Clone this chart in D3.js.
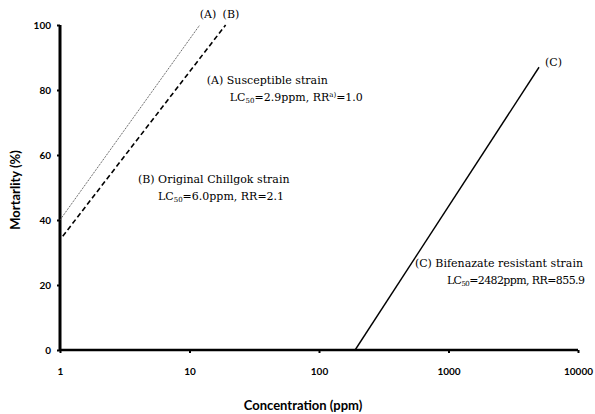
<!DOCTYPE html>
<html>
<head>
<meta charset="utf-8">
<script src="https://cdn.jsdelivr.net/npm/d3@7"></script>
<style>
  body { margin: 0; background: #fff; }
  .tick text { font-family: Lato, "Open Sans", sans-serif; font-weight: bold; font-size: 10px; }
  .note { font-family: "DejaVu Serif", "Liberation Serif", serif; font-size: 11px; }
</style>
</head>
<body>
<script>
// dose-response lines: [ppm, mortality %]
var lineA = [[1, 40], [12, 100]];
var lineB = [[1.05, 35], [19, 100]];
var lineC = [[190, 0], [5000, 87]];

var xTicks = [1, 10, 100, 1000, 10000];
var yTicks = [0, 20, 40, 60, 80, 100];

var endLabels = [
    {text: "(A)", x: 12, y: 100},
    {text: "(B)", x: 19, y: 100},
    {text: "(C)", x: 5000, y: 87}
];

// annotation anchors (ppm, %)
var notes = [
    {x: 13.6, y: 82, lines: ["(A) Susceptible strain", "LC50=2.9ppm, RRa)=1.0"]},
    {x: 4.0, y: 51.5, lines: ["(B) Original Chillgok strain", "LC50=6.0ppm, RR=2.1"]},
    {x: 550, y: 25.5, lines: ["(C) Bifenazate resistant strain", "LC50=2482ppm, RR=855.9"]}
];

// label nudges in px
var endOffsets = [[0, -7], [-3, -7], [6, -1]];
var noteIndent = [23, 20, 32];
var noteSpacing = [0, 0, -0.6];

var margin = {top: 25, right: 17, bottom: 64, left: 60},
    width = 595 - margin.left - margin.right,
    height = 414 - margin.top - margin.bottom;

var x = d3.scaleLog().domain([1, 10000]).range([0, width]);
var y = d3.scaleLinear().domain([0, 100]).range([height, 0]);

var svg = d3.select("body").append("svg")
    .attr("width", 595)
    .attr("height", 414);

var group = svg.append("g")
    .attr("transform", "translate(" + margin.left + "," + margin.top + ")");

// axes
var xAxis = group.append("g")
    .attr("transform", "translate(0," + height + ")")
    .call(d3.axisBottom(x).tickValues(xTicks).tickFormat(d3.format("d")).tickSize(3).tickPadding(15));
var yAxis = group.append("g")
    .call(d3.axisLeft(y).tickValues(yTicks).tickSize(3).tickPadding(6));

xAxis.select(".domain").attr("stroke-width", 2.5).attr("d", "M0,0H" + width);
yAxis.select(".domain").attr("stroke-width", 3).attr("d", "M0," + height + "V0");
group.selectAll(".tick line").attr("stroke-width", 2);

var line = d3.line()
    .x(d => x(d[0]))
    .y(d => y(d[1]));

group.append("path").datum(lineA)
    .attr("d", line).attr("fill", "none").attr("stroke", "#444")
    .attr("stroke-width", 1).attr("stroke-dasharray", "1,1");
group.append("path").datum(lineB)
    .attr("d", line).attr("fill", "none").attr("stroke", "#000")
    .attr("stroke-width", 1.6).attr("stroke-dasharray", "5,3");
group.append("path").datum(lineC)
    .attr("d", line).attr("fill", "none").attr("stroke", "#000")
    .attr("stroke-width", 1.4);

group.selectAll(".endlab").data(endLabels).enter().append("text")
    .attr("class", "note")
    .attr("x", (d, i) => x(d.x) + endOffsets[i][0])
    .attr("y", (d, i) => y(d.y) + endOffsets[i][1])
    .text(d => d.text);

// annotations with subscript 50 and superscript a)
function writeLine(t, s) {
    var m = s.match(/^(LC)(50)(.*?)(RR)(a\))?(.*)$/);
    if (!m) { t.text(s); return; }
    t.append("tspan").text("LC");
    t.append("tspan").attr("font-size", 7).attr("dy", 2).text("50");
    t.append("tspan").attr("dy", -2).text(m[3] + "RR");
    if (m[5]) {
        t.append("tspan").attr("font-size", 7).attr("dy", -4).text("a)");
        t.append("tspan").attr("dy", 4).text(m[6]);
    } else {
        t.append("tspan").text(m[6]);
    }
}

notes.forEach((n, k) => {
    n.lines.forEach((s, i) => {
        var t = group.append("text")
            .attr("class", "note")
            .attr("x", x(n.x) + (i ? noteIndent[k] : 0))
            .attr("y", y(n.y) + i * 17)
            .style("letter-spacing", i ? noteSpacing[k] + "px" : null);
        writeLine(t, s);
    });
});

svg.append("text")
    .attr("x", margin.left + 243)
    .attr("y", 410)
    .attr("text-anchor", "middle")
    .style("font-family", "Lato, 'Open Sans', sans-serif")
    .style("font-weight", "bold")
    .style("font-size", "13px")
    .text("Concentration (ppm)");

svg.append("text")
    .attr("transform", "translate(20,190) rotate(-90)")
    .attr("text-anchor", "middle")
    .style("font-family", "Lato, 'Open Sans', sans-serif")
    .style("font-weight", "bold")
    .style("font-size", "13px")
    .text("Mortarlity (%)");
</script>
</body>
</html>
